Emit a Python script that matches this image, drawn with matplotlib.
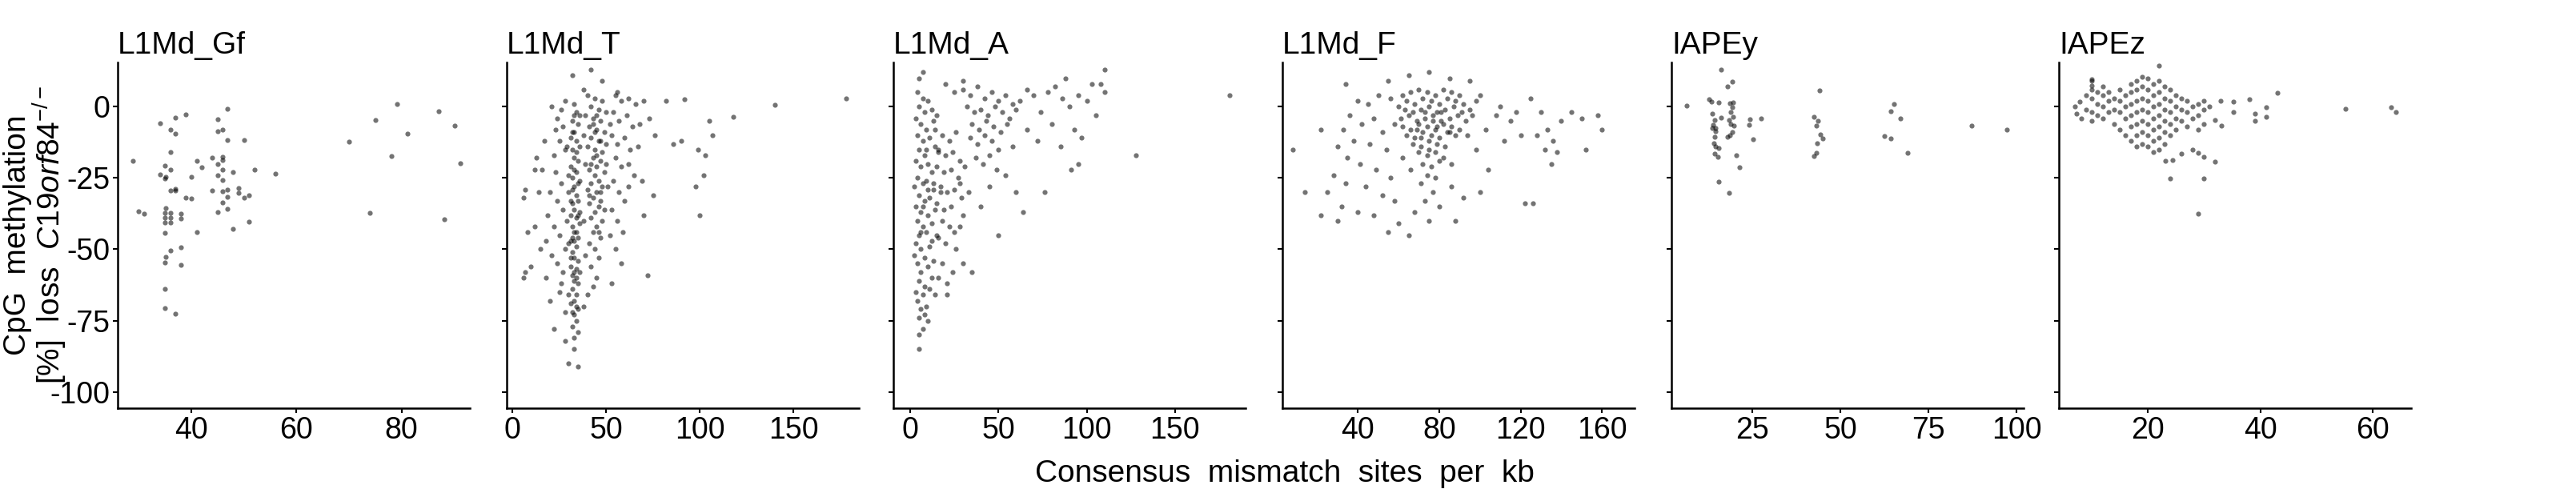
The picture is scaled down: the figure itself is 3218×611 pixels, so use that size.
import matplotlib
matplotlib.use("Agg")
import matplotlib.pyplot as plt

plt.rcParams["font.family"] = "Liberation Sans"
plt.rcParams["mathtext.fontset"] = "custom"
plt.rcParams["mathtext.rm"] = "Liberation Sans"
plt.rcParams["mathtext.it"] = "Liberation Sans:italic"

panels = ["L1Md_Gf", "L1Md_T", "L1Md_A", "L1Md_F", "IAPEy", "IAPEz"]

gf_pts = [(28.9,-18.9),(30,-36.8),(31,-37.4),(34,-5.8),(34.1,-23.8),(35,-20.7),(35.1,-24.7),(35,-25.3),
(35.1,-35.6),(35,-37.2),(35,-38.9),(35,-40.5),(35,-44.3),(35.1,-52.7),(35,-54.7),(35,-64),(35,-70.5),
(36,-8),(36.1,-16),(36.1,-22.2),(36.1,-29.5),(36.1,-37.2),(36.1,-38.8),(36.1,-40.5),(36.1,-50.5),
(37,-3.9),(37,-9.4),(36.9,-28.8),(37,-29.5),(37,-72.7),(38,-37.4),(38,-39.1),(38,-49.2),(38,-55.5),
(39,-2.6),(39,-31.8),(40,-24.6),(40,-32.3),(41,-18.9),(41,-44),(42,-21.2),(44,-17.8),(44,-29.5),
(45,-4.4),(45,-8.5),(45,-20),(45,-24.1),(45,-36.9),(46,-8),(46,-17.6),(46,-18.6),(46,-22.2),(46,-25.7),
(46,-29.8),(46,-33.6),(46.9,-0.7),(46.9,-11.8),(46.9,-29),(46.9,-31.7),(46.9,-35.8),(47.9,-23),(47.9,-42.9),
(49,-28.5),(49,-30.3),(50,-11.8),(50,-31.8),(51,-31.1),(51,-40.2),(52,-22.2),(56,-23.5),(70,-12.4),
(74,-37.3),(75.1,-4.6),(78.1,-17.2),(79.1,0.8),(81.1,-9.4),(87.1,-1.7),(88.2,-39.6),(90.1,-6.6),(91.1,-19.9)]

t_pts = [(33,1),(34,-2),(32,-5),(35,-6),(33,-9),(31,-11),(34,-12),(36,-14),(32,-15),(33,-18),(35,-19),(31,-21),
(34,-23),(32,-25),(36,-26),(33,-28),(30,-30),(34,-31),(35,-33),(32,-34),(33,-36),(31,-38),(34,-39),(36,-41),
(32,-42),(33,-44),(35,-46),(31,-47),(34,-49),(32,-51),(33,-53),(35,-54),(31,-56),(34,-57),(32,-59),(33,-61),
(35,-62),(32,-64),(34,-66),(33,-68),(31,-69),(35,-71),(33,-73),(34,-75),(32,-77),(35,-79),(33,-81),(30,-66),
(36,-58),(30,-48),(36,-37),(30,-24),(29,-14),(36,-3),(33,-3),(34,-16),(32,-29),(33,-47),(34,-60),(32,-72),
(35,-38),(31,-53),(33,-22),(34,-44),(32,-9),(35,-27),(33,-58),(31,-33),(34,-70),(32,-46),
(40,4),(44,3),(48,2),(42,0),(46,-1),(50,-2),(39,-3),(43,-4),(47,-5),(41,-7),(45,-8),(49,-9),(52,-6),(38,-10),
(42,-11),(46,-12),(50,-13),(40,-14),(44,-15),(48,-16),(43,-18),(47,-19),(39,-20),(45,-21),(41,-22),(49,-23),
(44,-24),(46,-26),(42,-27),(48,-28),(40,-29),(45,-30),(43,-32),(47,-33),(41,-34),(46,-35),(44,-37),(42,-39),
(48,-40),(45,-42),(43,-44),(47,-46),(41,-48),(44,-50),(46,-53),(42,-56),(45,-60),(43,-63),(40,-66),(38,-70),
(47,-30),(45,-17),(43,-6),(49,-36),(42,-20),(46,-44),(44,-9),(41,-31),(50,-20),(38,-40),(39,-52),(47,-12),
(45,-3),(51,-28),
(28,2),(26,-1),(24,-4),(21,0),(27,-7),(25,-12),(22,-17),(28,-15),(23,-23),(26,-27),(20,-30),(24,-33),(27,-36),
(19,-38),(22,-42),(25,-45),(18,-47),(28,-50),(21,-52),(24,-55),(27,-58),(16,-22),(14,-30),(12,-42),(15,-50),
(18,-60),(20,-68),(25,-65),(28,-72),(22,-78),(17,-12),(13,-18),(29,-40),(26,-62),(23,-8),
(55,4),(58,2),(62,3),(66,1),(70,2),(54,-2),(57,-5),(61,-3),(64,-7),(68,-6),(73,-4),(53,-10),(56,-13),(60,-11),
(63,-15),(67,-14),(55,-18),(58,-21),(62,-20),(54,-26),(57,-30),(60,-33),(53,-36),(56,-40),(52,-45),(55,-50),
(58,-55),(53,-62),(65,-24),(69,-26),(62,-28),(59,-44),
(178,3),(140,0.5),(118,-3.5),(105,-5),(107,-10),(99,-15),(103,-17),(102,-24),(100,-38),(98,-28),(90,-12),
(86,-13),(92,2.5),(82,2),(76,-10),(72,-59),(70,-38),(75,-31),(35,-91),(30,-90),(28,-82),(33,-85),(7,-58),
(6,-60),(10,-56),(8,-44),(6,-32),(7,-29),(12,-22),(42,13),(32,11),(48,9),(38,6),(56,5)]

a_pts = [(4,5),(7,3),(10,2),(5,0),(8,-2),(12,-1),(3,-4),(6,-6),(9,-8),(13,-5),(4,-10),(7,-12),(11,-11),(5,-15),
(8,-17),(14,-14),(3,-19),(6,-21),(10,-20),(12,-23),(4,-25),(7,-27),(9,-26),(13,-29),(5,-31),(8,-33),(11,-32),
(3,-35),(6,-37),(10,-38),(14,-36),(4,-40),(7,-42),(12,-41),(5,-45),(9,-44),(3,-48),(6,-50),(11,-49),(8,-53),
(4,-55),(10,-56),(6,-58),(13,-54),(5,-61),(8,-63),(3,-65),(7,-66),(11,-64),(4,-68),(6,-71),(9,-70),(5,-74),
(8,-73),(16,-60),(15,-45),(17,-30),(16,-16),(15,-3),(12,-47),(2,-28),(2,-52),(9,-15),(7,-35),(10,-29),(6,-44),
(14,-8),(18,-10),(22,-12),(26,-9),(16,-15),(20,-17),(24,-16),(28,-19),(15,-21),(19,-23),(23,-22),(27,-25),
(13,-27),(17,-28),(21,-30),(25,-29),(29,-32),(15,-34),(19,-36),(23,-35),(18,-40),(22,-42),(16,-46),(20,-48),
(25,-44),(30,-38),(28,-27),(31,-21),(33,-30),(26,-50),(18,-55),(24,-58),(12,-60),(14,-66),(21,-62),
(20,8),(25,5),(30,6),(34,4),(38,7),(42,3),(46,5),(50,2),(54,4),(58,1),(32,0),(36,-2),(40,-1),(44,-3),(48,0),
(52,-2),(56,-4),(60,-1),(35,-6),(39,-8),(43,-5),(47,-7),(51,-9),(55,-6),(34,-11),(38,-13),(42,-10),(46,-12),
(50,-15),(37,-18),(41,-20),(45,-17),(49,-22),(54,-24),(58,-14),(62,2),(66,6),(70,4),(74,-2),(78,5),(82,7),
(86,3),(90,0),(95,4),(100,2),(105,-3),(110,5),(66,-8),(72,-12),(80,-6),(85,-14),(97,-11),(60,-30),(45,-28),
(40,-35),(28,-42),(5,10),(7,12),(30,9),
(181,4),(128,-17),(110,13),(108,8),(88,10),(103,8),(93,-8),(91,-22),(95,-20),(64,-37),(76,-30),(50,-45),
(30,-55),(35,-58),(21,-66),(5,-80),(5,-85),(10,-75),(7,-78)]

f_pts = [(62,4),(66,5),(70,6),(74,5),(78,4),(82,6),(86,5),(90,4),(64,2),(68,1),(72,3),(76,2),(80,1),(84,3),(88,2),
(92,1),(60,0),(63,-1),(67,-2),(71,-1),(75,0),(79,-2),(83,-1),(87,0),(91,-2),(95,-1),(61,-4),(65,-3),(69,-5),
(73,-4),(77,-3),(81,-5),(85,-4),(89,-3),(93,-5),(62,-7),(66,-8),(70,-6),(74,-7),(78,-8),(82,-6),(86,-7),(90,-8),
(64,-10),(68,-11),(72,-9),(76,-10),(80,-11),(84,-9),(88,-10),(67,-13),(71,-14),(75,-12),(79,-13),(83,-14),
(70,-16),(74,-17),(78,-16),(82,-18),(72,-20),(76,-21),(80,-19),(74,-24),(78,-25),(71,-27),(77,-30),(73,-33),
(80,-35),(68,-37),(75,-40),(66,-22),(86,-20),(62,-18),(94,-10),(96,-3),(58,-6),(98,2),(56,3),(73,-2),(77,-5),
(69,-8),(81,-2),(85,-9),(79,-7),(71,-11),(75,-15),
(40,2),(45,1),(50,4),(36,-3),(42,-6),(48,-4),(52,-9),(33,-8),(38,-12),(46,-13),(54,-15),(30,-14),(35,-18),
(41,-20),(49,-22),(56,-25),(28,-24),(34,-27),(44,-28),(52,-31),(58,-33),(25,-30),(32,-35),(40,-37),(48,-38),
(60,-41),(22,-38),(30,-40),(55,-44),(86,-28),(92,-32),(100,-30),(104,-22),(98,-15),(103,-8),(108,-3),(100,4),
(95,9),(85,10),(75,12),(65,11),(55,9),(110,0),(115,-5),(112,-12),(120,-10),(118,-2),(125,3),(130,-2),(128,-10),
(133,-8),(136,-12),(132,-15),(138,-16),(135,-20),(140,-5),(145,-2),(150,-4),(158,-3),(160,-8),(152,-15),
(14,-30),(22,-8),(8,-15),(34,8),(65,-45),(88,-40),(122,-34),(126,-34)]

y_pts = [(16.2,13.0),(19.2,8.7),(18.0,7.1),(6.4,0.4),(12.7,2.6),(13.4,1.8),(15.4,1.5),(18.7,1.3),(19.6,1.5),
(19.2,-0.3),(18.9,-2.0),(18.3,-4.7),(18.9,-6.1),(19.7,-6.8),(19.2,-9.0),(18.7,-10.1),(18.0,-10.7),(13.6,-2.5),
(14.3,-4.7),(13.9,-6.3),(14.5,-7.4),(14.6,-8.5),(14.3,-10.7),(14.1,-12.8),(14.5,-13.9),(15.4,-14.5),
(14.3,-16.6),(15.2,-17.7),(20.4,-17.0),(21.3,-21.2),(15.4,-26.4),(18.3,-30.2),(24.3,-4.5),(24.1,-6.3),
(27.5,-4.2),(25.2,-11.4),(44.1,5.7),(42.4,-3.6),(43.6,-5.0),(43.2,-6.8),(44.3,-9.8),(45.0,-11.1),(43.4,-12.8),
(43.2,-16.1),(42.4,-17.2),(65.2,0.8),(64.3,-1.6),(67.1,-4.2),(62.4,-10.3),(64.3,-11.1),(69.0,-16.3),
(87.3,-6.7),(97.3,-8.2),(16.1,-3.9),(13.6,-7.6),(19.6,-3.6)]

z_pts = [(9,4),(9,-1),(10,9),(10,6),(10,3),(10,-2),(10,-5),(11,5),(11,1),(11,-3),(12,7),(12,4),(12,0),(12,-4),
(13,5),(13,2),(13,-2),(14,3),(14,-1),(14,-6),(15,6),(15,2),(15,-2),(15,-8),(16,4),(16,0),(16,-4),(16,-10),
(17,8),(17,5),(17,1),(17,-3),(17,-7),(17,-12),(18,9),(18,6),(18,2),(18,-2),(18,-6),(18,-10),(18,-14),(19,7),
(19,3),(19,-1),(19,-5),(19,-9),(19,-13),(20,10),(20,6),(20,2),(20,-2),(20,-6),(20,-10),(20,-14),(21,8),(21,4),
(21,0),(21,-4),(21,-8),(21,-12),(21,-16),(22,9),(22,5),(22,1),(22,-3),(22,-7),(22,-11),(22,-15),(23,7),(23,3),
(23,-1),(23,-5),(23,-9),(23,-13),(24,6),(24,2),(24,-2),(24,-6),(24,-10),(25,4),(25,0),(25,-4),(25,-8),(26,3),
(26,-1),(26,-5),(27,2),(27,-2),(27,-7),(28,0),(28,-4),(29,1),(29,-3),(29,-8),(30,2),(30,-1),(30,-6),(31,0),(33,2),
(43.1,4.7),(38.1,2.7),(55.2,-0.8),(63.3,-0.3),(64.2,-2.0),(39.1,-2.5),(39.1,-5),(41.1,-0.3),(41.1,-3.6),
(35.2,1.8),(35.2,-2),(32,-4.7),(33.1,-6.8),(32,-19.3),(30,-25.3),(24,-25.1),(28.9,-37.5),(30,-17.7),
(28.9,-16.1),(28,-15),(26,-16.6),(24.4,-18.8),(23.1,-19.1),(21.9,14.3),(18.9,10.5),(7.8,1.8),(7,0.2),
(7.2,-2.5),(8.1,-4.1),(10,9.5),(10,7.3)]

panel_points = [gf_pts, t_pts, a_pts, f_pts, y_pts, z_pts]
xlims = [(26, 93), (-3, 185), (-9.6, 190), (3, 176), (2, 102), (4.1, 66.9)]
xticks = [[40, 60, 80], [0, 50, 100, 150], [0, 50, 100, 150], [40, 80, 120, 160], [25, 50, 75, 100], [20, 40, 60]]
yticks = [0, -25, -50, -75, -100]
ylim = (-105.7, 15.5)

W, H = 3218, 611
fig = plt.figure(figsize=(W / 100, H / 100), dpi=100)
lefts = [147, 633, 1116, 1602, 2088, 2572]
for i, name in enumerate(panels):
    ax = fig.add_axes([lefts[i] / W, 101 / H, 440 / W, 432 / H])
    xs = [p[0] for p in panel_points[i]]
    ys = [p[1] for p in panel_points[i]]
    ax.scatter(xs, ys, s=20, color="black", alpha=0.55, linewidths=0)
    ax.set_xlim(*xlims[i])
    ax.set_ylim(*ylim)
    ax.set_xticks(xticks[i])
    ax.set_yticks(yticks)
    if i == 0:
        ax.set_yticklabels([str(v) for v in yticks])
    else:
        ax.set_yticklabels([])
    for s in ["top", "right"]:
        ax.spines[s].set_visible(False)
    for s in ["left", "bottom"]:
        ax.spines[s].set_linewidth(1.8)
    ax.tick_params(labelsize=27, length=4, width=1.5, pad=3)
    ax.set_title(name, loc="left", fontsize=28, pad=8)

fig.text(22 / W, 0.52, "CpG  methylation", rotation=90, fontsize=28, ha="center", va="center")
fig.text(62 / W, 0.52, r"[%]  loss  $\mathit{C19orf84}^{-/-}$", rotation=90, fontsize=28, ha="center", va="center")
fig.text(1605 / W, 1 - 592 / H, "Consensus  mismatch  sites  per  kb", fontsize=28, ha="center", va="center")
fig.savefig("out.png", dpi=100)
